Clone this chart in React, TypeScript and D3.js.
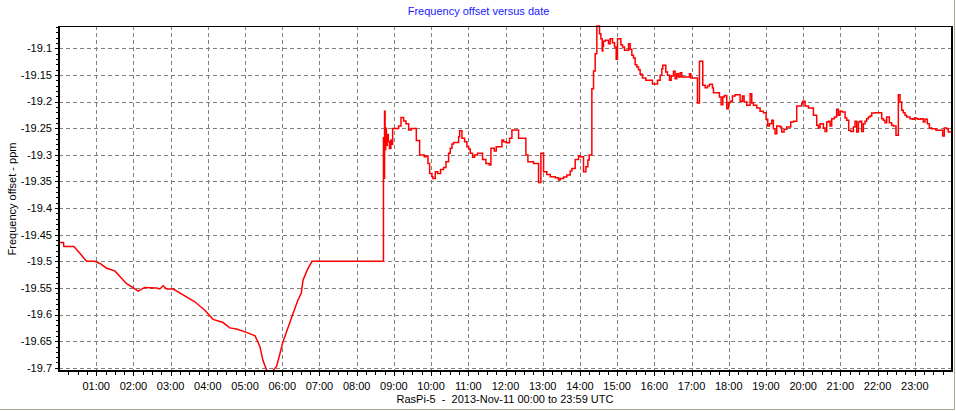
import React, { useEffect } from "react";
import * as d3 from "d3";

const TITLE = "Frequency offset versus date";
const Y_LABEL = "Frequency offset - ppm";
const CAPTION = "RasPi-5  -  2013-Nov-11 00:00 to 23:59 UTC";

const xTickLabels = [
  "01:00", "02:00", "03:00", "04:00", "05:00", "06:00", "07:00", "08:00",
  "09:00", "10:00", "11:00", "12:00", "13:00", "14:00", "15:00", "16:00",
  "17:00", "18:00", "19:00", "20:00", "21:00", "22:00", "23:00",
];
const yTickValues = [
  -19.1, -19.15, -19.2, -19.25, -19.3, -19.35, -19.4, -19.45, -19.5, -19.55,
  -19.6, -19.65, -19.7,
];

// hour of day (UTC)
const hours = [
  0.0, 0.12, 0.13, 0.4, 0.56, 0.74, 0.96, 1.1, 1.28, 1.5, 1.81, 2.13, 2.3, 2.62,
  2.71, 2.8, 2.89, 3.07, 3.38, 3.65, 3.92, 4.14, 4.41, 4.59, 4.77, 5.04, 5.27,
  5.4, 5.48, 5.58, 5.62, 5.74, 5.85, 6.02, 6.29, 6.42, 6.51, 6.56, 6.67, 6.8,
  8.72,
  8.72, 8.735, 8.75, 8.765, 8.78, 8.8, 8.82, 8.85, 8.88, 8.92, 8.95, 8.967,
  9.128, 9.191, 9.262, 9.325, 9.397, 9.468, 9.603, 9.692, 9.817, 9.862, 9.916,
  9.961, 10.023, 10.05, 10.113, 10.175, 10.256, 10.337, 10.399, 10.471, 10.516,
  10.561, 10.605, 10.74, 10.766, 10.829, 10.901, 10.963, 11.008, 11.053, 11.115,
  11.169, 11.25, 11.384, 11.474, 11.563, 11.608, 11.698, 11.751, 11.904, 11.948,
  12.02, 12.109, 12.172, 12.351, 12.548, 12.602, 12.754, 12.888, 12.951, 13.023,
  13.112, 13.202, 13.336, 13.426, 13.47, 13.56, 13.649, 13.739, 13.784, 13.873,
  13.963, 14.008, 14.097, 14.16, 14.213, 14.249, 14.321, 14.366, 14.41, 14.455,
  14.527, 14.563, 14.598, 14.616, 14.634, 14.679, 14.768, 14.813, 14.876, 14.93,
  14.974, 15.01, 15.1, 15.145, 15.198, 15.306, 15.35, 15.395, 15.44, 15.485,
  15.53, 15.574, 15.619, 15.682, 15.771, 15.95, 16.085, 16.156, 16.201, 16.228,
  16.308, 16.353, 16.407, 16.452, 16.514, 16.559, 16.604, 16.649, 16.694,
  16.738, 16.944, 16.98, 17.159, 17.213, 17.302, 17.365, 17.428, 17.481, 17.562,
  17.589, 17.75, 17.795, 17.84, 17.884, 17.947, 17.992, 18.036, 18.099, 18.171,
  18.305, 18.368, 18.412, 18.484, 18.574, 18.618, 18.663, 18.753, 18.842,
  18.932, 19.003, 19.048, 19.093, 19.156, 19.2, 19.245, 19.29, 19.38, 19.424,
  19.487, 19.559, 19.666, 19.738, 19.827, 19.962, 19.988, 20.051, 20.141,
  20.275, 20.364, 20.409, 20.454, 20.544, 20.588, 20.633, 20.678, 20.723,
  20.767, 20.839, 20.901, 20.946, 20.991, 21.054, 21.126, 21.17, 21.224, 21.278,
  21.349, 21.394, 21.439, 21.484, 21.528, 21.573, 21.618, 21.663, 21.707,
  21.752, 21.797, 21.842, 21.931, 22.11, 22.155, 22.2, 22.245, 22.316, 22.379,
  22.424, 22.495, 22.558, 22.603, 22.648, 22.692, 22.737, 22.782, 22.871,
  22.934, 22.988, 23.051, 23.095, 23.158, 23.229, 23.274, 23.337, 23.391,
  23.453, 23.57, 23.749, 23.793, 23.856, 23.901, 23.99,
];

// frequency offset, ppm
const offsets = [
  -19.4645, -19.4645, -19.472, -19.472, -19.485, -19.5, -19.5, -19.504, -19.513,
  -19.518, -19.5415, -19.556, -19.549, -19.55, -19.552, -19.546, -19.552,
  -19.552, -19.565, -19.576, -19.592, -19.609, -19.615, -19.625, -19.627,
  -19.6335, -19.64, -19.66, -19.686, -19.704, -19.706, -19.706, -19.697,
  -19.651, -19.598, -19.573, -19.56, -19.535, -19.5165, -19.5,
  -19.5,
  -19.268, -19.344, -19.218, -19.29, -19.25, -19.282, -19.262, -19.275,
  -19.288, -19.272, -19.28, -19.2504,
  -19.246, -19.2297, -19.2366, -19.2416, -19.2535, -19.2504, -19.2729,
  -19.3005, -19.3036, -19.3023, -19.3161, -19.3349, -19.3412, -19.3443,
  -19.3318, -19.3349, -19.3274, -19.3236, -19.313, -19.2973, -19.2879,
  -19.2798, -19.2767, -19.266, -19.2547, -19.2691, -19.2754, -19.2848,
  -19.2892, -19.2973, -19.3048, -19.3005, -19.2973, -19.3086, -19.3161,
  -19.3192, -19.2879, -19.2929, -19.2848, -19.2723, -19.2754, -19.2773,
  -19.2691, -19.2535, -19.2691, -19.3005, -19.313, -19.3161, -19.3518,
  -19.2973, -19.3318, -19.3368, -19.3412, -19.343, -19.3474, -19.3443,
  -19.3418, -19.338, -19.3305, -19.3255, -19.3086, -19.3017, -19.3036,
  -19.3318, -19.3224, -19.3098, -19.3005, -19.1758, -19.1426, -19.1101,
  -19.0581, -19.0725, -19.0819, -19.1051, -19.0957, -19.0869, -19.085,
  -19.0913, -19.0819, -19.0894, -19.0976, -19.1207, -19.0819, -19.0932,
  -19.0976, -19.1038, -19.0913, -19.1019, -19.1132, -19.1182, -19.1307,
  -19.1351, -19.1401, -19.1489, -19.1558, -19.1602, -19.1671, -19.1602,
  -19.1508, -19.1383, -19.132, -19.1445, -19.1508, -19.1602, -19.152, -19.1433,
  -19.157, -19.1477, -19.1539, -19.1458, -19.1539, -19.1477, -19.1558,
  -19.2028, -19.1245, -19.1696, -19.1739, -19.1708, -19.1677, -19.1746,
  -19.1834, -19.1915, -19.2059, -19.1915, -19.1884, -19.2134, -19.2021,
  -19.1996, -19.1896, -19.1871, -19.1996, -19.1896, -19.2009, -19.2071,
  -19.1852, -19.2028, -19.2071, -19.2121, -19.2184, -19.2209, -19.2334,
  -19.246, -19.2416, -19.2353, -19.251, -19.2604, -19.246, -19.2479, -19.2573,
  -19.2522, -19.2479, -19.2385, -19.2372, -19.2084, -19.204, -19.1996,
  -19.2084, -19.2121, -19.2259, -19.2447, -19.2497, -19.2416, -19.2497,
  -19.256, -19.2385, -19.2372, -19.246, -19.2322, -19.2291, -19.2146, -19.2259,
  -19.2184, -19.2197, -19.2309, -19.2353, -19.2541, -19.256, -19.2479,
  -19.2372, -19.2573, -19.2385, -19.2372, -19.256, -19.2416, -19.2372,
  -19.2322, -19.2291, -19.2272, -19.2216, -19.2209, -19.2322, -19.2353,
  -19.2397, -19.2291, -19.2397, -19.2447, -19.246, -19.2635, -19.1871,
  -19.2009, -19.2165, -19.2209, -19.2259, -19.2291, -19.2322, -19.2334,
  -19.2309, -19.2322, -19.2334, -19.2322, -19.2385, -19.2334, -19.2416,
  -19.2497, -19.251, -19.2541, -19.2648, -19.2497, -19.251, -19.2573, -19.2573,
];

// from this hour on the logger recorded a stepped series
const STEP_START_HOUR = 8.72;

const FONT = "'Liberation Sans', Arial, sans-serif";

export default function App() {
  useEffect(() => {
    document.body.style.margin = "0";
  }, []);

  const W = 956;
  const H = 411;
  const left = 59;
  const right = 952;
  const top = 26;
  const bottom = 371;

  const x = d3.scaleLinear().domain([0, 24]).range([left, right]);
  const ext = d3.extent(offsets) as [number, number];
  const y = d3.scaleLinear().domain(ext).range([bottom, top]);

  const data: [number, number][] = hours.map((h, i) => [h, offsets[i]]);
  const k = hours.findIndex((h) => h >= STEP_START_HOUR);
  const early = data.slice(0, k + 1);
  const late = data.slice(k);

  const linePlain = d3
    .line<[number, number]>()
    .x((d) => x(d[0]))
    .y((d) => y(d[1]));
  const lineStep = d3
    .line<[number, number]>()
    .x((d) => x(d[0]))
    .y((d) => y(d[1]))
    .curve(d3.curveStepAfter);

  const xMajor = xTickLabels.map((_, i) => i + 1);
  const xMinor = d3.range(0.25, 24, 0.25).filter((h) => Math.abs(h - Math.round(h)) > 1e-6);
  const yMinor = d3
    .range(-19.7, -19.05, 0.01)
    .filter((v) => v >= ext[0] - 1e-9 && v <= ext[1] + 1e-9);

  const px = (v: number) => Math.round(v) + 0.5;

  return (
    <svg
      width={W}
      height={H}
      style={{ display: "block", position: "absolute", left: 0, top: 0, background: "#fff" }}
    >
      <rect x={0} y={0} width={W} height={H} fill="#fff" />
      {/* outer panel frame */}
      <line x1={954.5} x2={954.5} y1={0} y2={410} stroke="#aca899" strokeWidth={1} />
      <line x1={0} x2={955} y1={409.5} y2={409.5} stroke="#aca899" strokeWidth={1} />

      {/* title */}
      <text x={478.5} y={15} textAnchor="middle" fontFamily={FONT} fontSize={11} fill="#1a1aff">
        {TITLE}
      </text>

      {/* grid */}
      <g stroke="#808080" strokeWidth={1} strokeDasharray="4,3" shapeRendering="crispEdges">
        {xMajor.map((h) => (
          <line key={"gx" + h} x1={px(x(h))} x2={px(x(h))} y1={top} y2={bottom} />
        ))}
        {yTickValues.map((v) => (
          <line key={"gy" + v} x1={left} x2={right} y1={px(y(v))} y2={px(y(v))} />
        ))}
      </g>

      {/* data */}
      <g fill="none" stroke="#ff0000" strokeWidth={1.5} strokeLinejoin="miter">
        <path d={linePlain(early) || ""} />
        <path d={lineStep(late) || ""} />
      </g>

      {/* frame */}
      <g stroke="#000" shapeRendering="crispEdges">
        <line x1={left} x2={right + 1} y1={top} y2={top} strokeWidth={1} />
        <line x1={right} x2={right} y1={top} y2={bottom} strokeWidth={2} />
        <line x1={left} x2={left} y1={top} y2={bottom + 1} strokeWidth={2.5} />
        <line x1={left - 1} x2={right + 1} y1={bottom} y2={bottom} strokeWidth={2.5} />
      </g>

      {/* ticks */}
      <g stroke="#000" strokeWidth={1} shapeRendering="crispEdges">
        {xMinor.map((h) => (
          <line key={"xm" + h} x1={px(x(h))} x2={px(x(h))} y1={bottom} y2={bottom + 4} />
        ))}
        {xMajor.map((h) => (
          <line key={"xM" + h} x1={px(x(h))} x2={px(x(h))} y1={bottom} y2={bottom + 5} />
        ))}
        {yMinor.map((v) => (
          <line key={"ym" + v} x1={left - 3} x2={left} y1={px(y(v))} y2={px(y(v))} />
        ))}
        {yTickValues.map((v) => (
          <line key={"yM" + v} x1={left - 4} x2={left} y1={px(y(v))} y2={px(y(v))} />
        ))}
      </g>

      <g fontFamily={FONT} fontSize={11} fill="#000">
        {xTickLabels.map((lab, i) => (
          <text key={lab} x={x(xMajor[i])} y={390} textAnchor="middle">
            {lab}
          </text>
        ))}
        {yTickValues.map((v) => (
          <text key={"yl" + v} x={52} y={y(v)} dy="0.35em" textAnchor="end">
            {String(+v.toFixed(2))}
          </text>
        ))}
        <text transform={`translate(15.5,199) rotate(-90)`} textAnchor="middle">
          {Y_LABEL}
        </text>
        <text x={505} y={403} textAnchor="middle" style={{ whiteSpace: "pre" }}>
          {CAPTION}
        </text>
      </g>
    </svg>
  );
}
